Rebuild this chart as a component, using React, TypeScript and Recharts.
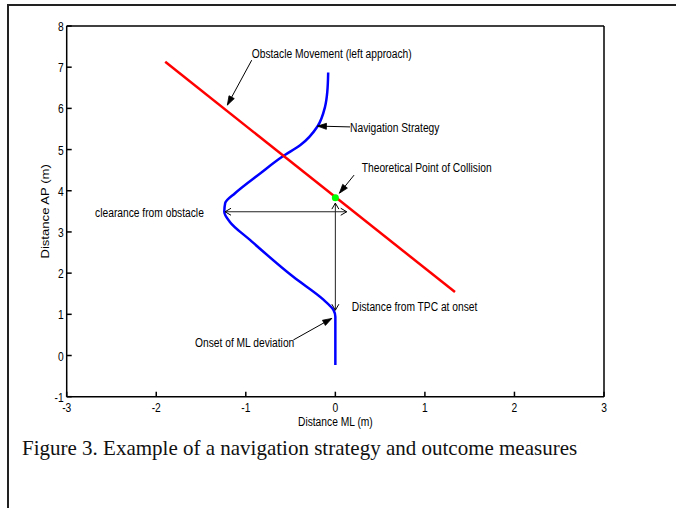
import React from 'react';
import { ComposedChart, Line, XAxis, YAxis, ReferenceLine, ReferenceDot } from 'recharts';

const xTicks = [-3, -2, -1, 0, 1, 2, 3];
const yTicks = [-1, 0, 1, 2, 3, 4, 5, 6, 7, 8];

// navigation strategy, walked from bottom to top
const navX = [0, 0, -0.02, -0.13, -0.47, -0.95, -1.18, -1.24, -1.23, -1.12, -0.84, -0.59, -0.39, -0.2, -0.115, -0.09, -0.08];
const navY = [-0.23, 0.94, 1.1, 1.35, 1.91, 2.8, 3.25, 3.49, 3.7, 3.94, 4.42, 4.83, 5.11, 5.56, 6.04, 6.4, 6.87];

// obstacle movement (left approach)
const obsX = [-1.9, 1.336];
const obsY = [7.13, 1.54];

// theoretical point of collision
const tpcX = 0;
const tpcY = 3.83;

const navData = navX.map((x, i) => ({ x, y: navY[i] }));
const obsData = obsX.map((x, i) => ({ x, y: obsY[i] }));

const FONT = '"Liberation Sans", Arial, sans-serif';
const STRETCH = 1.28;

// text annotations, in data units
const notes = [
  { text: 'Obstacle Movement (left approach)', x: -0.934, y: 7.35 },
  { text: 'Navigation Strategy', x: 0.164, y: 5.54 },
  { text: 'Theoretical Point of Collision', x: 0.295, y: 4.58 },
  { text: 'clearance from obstacle', x: -2.683, y: 3.48 },
  { text: 'Distance from TPC at onset', x: 0.183, y: 1.2 },
  { text: 'Onset of ML deviation', x: -1.567, y: 0.335 },
];

// arrows: [from, to], head at "to"
const pointers = [
  { from: { x: -0.934, y: 7.17 }, to: { x: -1.206, y: 6.08 } },
  { from: { x: 0.164, y: 5.55 }, to: { x: -0.2, y: 5.57 } },
  { from: { x: 0.209, y: 4.38 }, to: { x: 0.045, y: 3.94 } },
  { from: { x: -0.469, y: 0.377 }, to: { x: -0.04, y: 0.9 } },
];
const measures = [
  { from: { x: -1.232, y: 3.49 }, to: { x: 0.127, y: 3.49 } },
  { from: { x: 0, y: 3.7 }, to: { x: 0, y: 1.1 } },
];

function StretchText({ x, y, anchor, size = 10.25, children }: any) {
  return (
    <text
      transform={`translate(${x},${y}) scale(1,${STRETCH})`}
      textAnchor={anchor}
      dominantBaseline="central"
      fontSize={size}
      fontFamily={FONT}
      fill="#000"
    >
      {children}
    </text>
  );
}

function arrowShape(filled: boolean, both: boolean) {
  return (p: any) => {
    const { x1, y1, x2, y2 } = p;
    const head = (tx: number, ty: number, fx: number, fy: number) => {
      const a = Math.atan2(ty - fy, tx - fx);
      const len = filled ? 9 : 6;
      const w = filled ? 3 : 3.5;
      const bx = tx - len * Math.cos(a);
      const by = ty - len * Math.sin(a);
      const pts = `${bx + w * Math.sin(a)},${by - w * Math.cos(a)} ${tx},${ty} ${bx - w * Math.sin(a)},${by + w * Math.cos(a)}`;
      return filled
        ? <polygon points={pts} fill="#000" stroke="#000" strokeWidth={0.8} />
        : <polyline points={pts} fill="none" stroke="#000" strokeWidth={1} />;
    };
    return (
      <g>
        <line x1={x1} y1={y1} x2={x2} y2={y2} stroke={filled ? '#000' : '#222'} strokeWidth={1} />
        {head(x2, y2, x1, y1)}
        {both && head(x1, y1, x2, y2)}
      </g>
    );
  };
}

const YTick = (p: any) => (
  <StretchText x={p.x} y={p.y} anchor="end">{p.payload.value}</StretchText>
);
const XTick = (p: any) => (
  <StretchText x={p.x} y={p.y} anchor="middle">{p.payload.value}</StretchText>
);

const YTitle = (p: any) => {
  const vb = p.viewBox || { x: 30.7, y: 26, width: 36, height: 370.7 };
  const cx = vb.x + 14.3;
  const cy = vb.y + vb.height / 2;
  return (
    <text
      transform={`translate(${cx},${cy}) rotate(-90) scale(${STRETCH},1)`}
      textAnchor="middle"
      dominantBaseline="central"
      fontSize={10.25}
      fontFamily={FONT}
      fill="#000"
    >
      Distance AP (m)
    </text>
  );
};

const XTitle = (p: any) => {
  const vb = p.viewBox || { x: 66.7, y: 396.7, width: 537.3, height: 30 };
  return (
    <StretchText x={vb.x + vb.width / 2} y={vb.y + 24.5} anchor="middle">Distance ML (m)</StretchText>
  );
};

export default function App() {
  return (
    <div style={{ position: 'absolute', left: 0, top: 0, width: 676, height: 508, overflow: 'hidden', background: '#fff' }}>
      <div style={{ position: 'absolute', left: 7, top: 4, width: 800, height: 600, border: '2px solid #222' }} />
      <div style={{ position: 'absolute', left: 0, top: 0 }}>
        <ComposedChart width={676} height={450} margin={{ top: 26, right: 72, left: 30.7, bottom: 23.3 }}>
          <XAxis
            dataKey="x"
            type="number"
            domain={[-3, 3]}
            ticks={xTicks}
            allowDataOverflow
            height={30}
            tickSize={-5}
            tickMargin={15}
            tick={XTick}
            stroke="#000"
            strokeWidth={1.5}
            label={{ value: 'Distance ML (m)', content: XTitle }}
          />
          <XAxis
            xAxisId="top"
            orientation="top"
            type="number"
            domain={[-3, 3]}
            ticks={xTicks}
            allowDataOverflow
            mirror
            tick={false}
            tickSize={5}
            stroke="#000"
            strokeWidth={1.5}
          />
          <YAxis
            type="number"
            domain={[-1, 8]}
            ticks={yTicks}
            allowDataOverflow
            width={36}
            tickSize={-5}
            tickMargin={8}
            tick={YTick}
            stroke="#000"
            strokeWidth={1.5}
            label={{ value: 'Distance AP (m)', content: YTitle }}
          />
          <YAxis
            yAxisId="right"
            orientation="right"
            type="number"
            domain={[-1, 8]}
            ticks={yTicks}
            allowDataOverflow
            mirror
            tick={false}
            tickSize={5}
            stroke="#000"
            strokeWidth={1.5}
          />
          <Line data={navData} dataKey="y" type="monotoneY" stroke="#0000ff" strokeWidth={2.5} dot={false} isAnimationActive={false} />
          <Line data={obsData} dataKey="y" type="linear" stroke="#ff0000" strokeWidth={2.5} dot={false} isAnimationActive={false} />
          {measures.map((m, i) => (
            <ReferenceLine key={`m${i}`} segment={[m.from, m.to]} shape={arrowShape(false, true)} />
          ))}
          {pointers.map((m, i) => (
            <ReferenceLine key={`p${i}`} segment={[m.from, m.to]} shape={arrowShape(true, false)} />
          ))}
          <ReferenceDot x={tpcX} y={tpcY} r={3.5} fill="#00ff00" stroke="none" />
          {notes.map((n) => (
            <ReferenceDot
              key={n.text}
              x={n.x}
              y={n.y}
              shape={(p: any) => <StretchText x={p.cx} y={p.cy} anchor="start">{n.text}</StretchText>}
            />
          ))}
        </ComposedChart>
      </div>
      <div
        style={{
          position: 'absolute',
          left: 22,
          top: 436,
          fontFamily: '"Liberation Serif", "Times New Roman", serif',
          fontSize: 21,
          lineHeight: '24px',
          color: '#111',
          whiteSpace: 'nowrap',
        }}
      >
        Figure 3. Example of a navigation strategy and outcome measures
      </div>
    </div>
  );
}
